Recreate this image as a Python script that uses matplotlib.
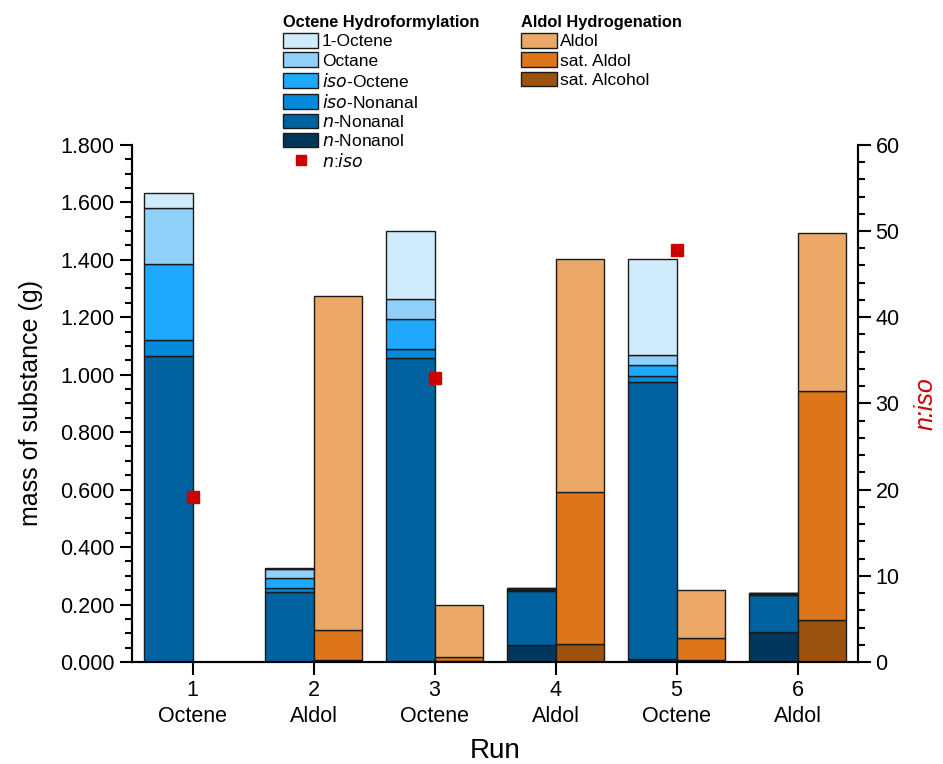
import numpy as np
import matplotlib.pyplot as plt
from matplotlib.patches import Patch
from matplotlib.lines import Line2D
from matplotlib.ticker import MultipleLocator, FormatStrFormatter

plt.rcParams['font.family'] = ['Liberation Sans', 'DejaVu Sans']

# data
runs = [1, 2, 3, 4, 5, 6]
feed = ['Octene', 'Aldol', 'Octene', 'Aldol', 'Octene', 'Aldol']

# octene hydroformylation products (g), bottom to top
n_nonanol = [0.000, 0.000, 0.004, 0.058, 0.012, 0.105]
n_nonanal = [1.066, 0.245, 1.055, 0.189, 0.962, 0.129]
iso_nonanal = [0.055, 0.013, 0.032, 0.004, 0.020, 0.004]
iso_octene = [0.265, 0.033, 0.104, 0.003, 0.038, 0.001]
octane = [0.193, 0.033, 0.070, 0.002, 0.035, 0.001]
octene_1 = [0.054, 0.004, 0.235, 0.001, 0.336, 0.001]

# aldol hydrogenation products (g), bottom to top
sat_alcohol = [0.0, 0.008, 0.003, 0.062, 0.006, 0.145]
sat_aldol = [0.0, 0.104, 0.013, 0.531, 0.077, 0.797]
aldol = [0.0, 1.161, 0.183, 0.810, 0.169, 0.552]

# n:iso ratio (right axis)
niso_runs = [1, 3, 5]
niso = [19.1, 33.0, 47.8]

octene_layers = [
    (n_nonanol, '#00365C', r'$\it{n}$-Nonanol'),
    (n_nonanal, '#00629E', r'$\it{n}$-Nonanal'),
    (iso_nonanal, '#0389DC', r'$\it{iso}$-Nonanal'),
    (iso_octene, '#1EA8FE', r'$\it{iso}$-Octene'),
    (octane, '#8FD1FA', 'Octane'),
    (octene_1, '#D0EBFC', '1-Octene'),
]
aldol_layers = [
    (sat_alcohol, '#9A5211', 'sat. Alcohol'),
    (sat_aldol, '#DD751A', 'sat. Aldol'),
    (aldol, '#ECA866', 'Aldol'),
]

fig = plt.figure(figsize=(9.43, 7.64), dpi=100)
ax = fig.add_axes([0.140, 0.1335, 0.770, 0.677])
ax2 = ax.twinx()

x = np.array(runs, dtype=float)
w = 0.4
edge = '#1a1a1a'

bottom = np.zeros(len(runs))
for vals, col, lab in octene_layers:
    v = np.array(vals)
    ax.bar(x - w / 2, v, width=w, bottom=bottom, color=col,
           edgecolor=edge, linewidth=1.0, zorder=2)
    bottom += v

has_aldol = np.array(aldol) > 0
bottom = np.zeros(len(runs))
for vals, col, lab in aldol_layers:
    v = np.array(vals)
    ax.bar(x[has_aldol] + w / 2, v[has_aldol], width=w, bottom=bottom[has_aldol],
           color=col, edgecolor=edge, linewidth=1.0, zorder=2)
    bottom += v

ax2.plot(niso_runs, niso, 's', color='#CC0000', markersize=8, zorder=5)

ax.set_xlim(0.5, 6.5)
ax.set_ylim(0, 1.8)
ax2.set_ylim(0, 60)

ax.set_xticks(runs)
ax.set_xticklabels([f'{r}\n{f}' for r, f in zip(runs, feed)], fontsize=15.5,
                   linespacing=1.3)
ax.yaxis.set_major_locator(MultipleLocator(0.2))
ax.yaxis.set_minor_locator(MultipleLocator(0.05))
ax.yaxis.set_major_formatter(FormatStrFormatter('%.3f'))
ax2.yaxis.set_major_locator(MultipleLocator(10))
ax2.yaxis.set_minor_locator(MultipleLocator(2))

for a in (ax, ax2):
    a.tick_params(which='major', length=9, width=1.5, labelsize=15.5, direction='out')
    a.tick_params(which='minor', length=5, width=1.5, direction='out')
    for s in a.spines.values():
        s.set_linewidth(1.5)
    a.spines['top'].set_visible(False)
ax.tick_params(axis='x', pad=4)

ax.set_xlabel('Run', fontsize=20, labelpad=8)
ax.set_ylabel('mass of substance (g)', fontsize=18, labelpad=12)
ax2.set_ylabel('n:iso', fontsize=18, color='#CC0000', style='italic', labelpad=10)

# legends
h1 = [Patch(facecolor=col, edgecolor=edge, linewidth=1.0, label=lab)
      for vals, col, lab in reversed(octene_layers)]
h1.append(Line2D([], [], marker='s', linestyle='none', color='#CC0000',
                 markersize=7, label=r'$\it{n}$:$\it{iso}$'))
leg1 = fig.legend(handles=h1, loc='upper left', bbox_to_anchor=(0.287, 0.996),
                  frameon=False, fontsize=12.5, title='Octene Hydroformylation',
                  title_fontproperties={'weight': 'bold', 'size': 11.8},
                  alignment='left', handlelength=2.05, handleheight=0.92,
                  labelspacing=0.17, handletextpad=0.2, borderpad=0.2)

h2 = [Patch(facecolor=col, edgecolor=edge, linewidth=1.0, label=lab)
      for vals, col, lab in reversed(aldol_layers)]
leg2 = fig.legend(handles=h2, loc='upper left', bbox_to_anchor=(0.540, 0.996),
                  frameon=False, fontsize=12.5, title='Aldol Hydrogenation',
                  title_fontproperties={'weight': 'bold', 'size': 11.8},
                  alignment='left', handlelength=2.05, handleheight=0.92,
                  labelspacing=0.17, handletextpad=0.2, borderpad=0.2)

fig.savefig('out.png', dpi=100)
